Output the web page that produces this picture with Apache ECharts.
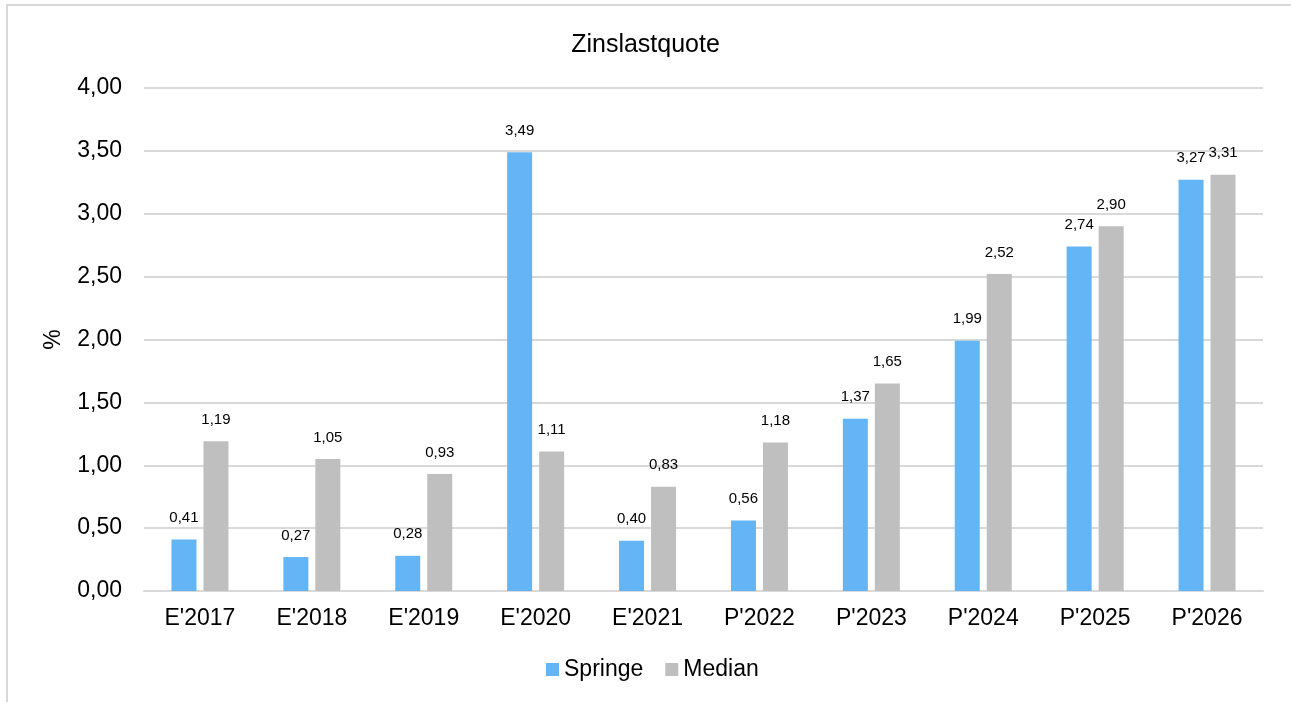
<!DOCTYPE html>
<html>
<head>
<meta charset="utf-8">
<script src="https://cdn.jsdelivr.net/npm/echarts@6/dist/echarts.min.js"></script>
<style>
  html, body { margin: 0; padding: 0; background: #fff; }
  #frame {
    position: absolute; left: 6px; top: 4px; width: 1285px; height: 698px;
    border-left: 2px solid #d9d9d9; border-top: 2px solid #d9d9d9;
  }
  #chart { position: absolute; left: 0; top: 0; width: 1291px; height: 702px; }
</style>
</head>
<body>
<div id="frame"></div>
<div id="chart"></div>
<script>
  // Kategorien und Werte
  const categories = ["E'2017", "E'2018", "E'2019", "E'2020", "E'2021", "P'2022", "P'2023", "P'2024", "P'2025", "P'2026"]
  const springe = [0.41, 0.27, 0.28, 3.49, 0.40, 0.56, 1.37, 1.99, 2.74, 3.27]
  const median = [1.19, 1.05, 0.93, 1.11, 0.83, 1.18, 1.65, 2.52, 2.90, 3.31]

  const font = 'Liberation Sans, Arial, sans-serif'
  const textColor = '#000'
  const fmt = (v) => v.toFixed(2).replace('.', ',')

  const chart = echarts.init(document.getElementById('chart'))

  const labelCfg = {
    show: true,
    position: 'top',
    distance: 14,
    color: textColor,
    fontFamily: font,
    fontSize: 15,
    formatter: (p) => fmt(p.value)
  }

  chart.setOption({
    animation: false,
    textStyle: { fontFamily: font },
    title: {
      text: 'Zinslastquote',
      left: 'center',
      top: 28,
      textStyle: { fontFamily: font, fontSize: 25, fontWeight: 'normal', color: textColor }
    },
    legend: {
      bottom: 16,
      left: 541,
      itemWidth: 13,
      itemHeight: 13,
      itemGap: 22,
      icon: 'rect',
      textStyle: { fontFamily: font, fontSize: 23, color: textColor, padding: [0, 0, 0, 0] },
      data: ['Springe', 'Median']
    },
    grid: { left: 144, right: 28, top: 88, bottom: 111, containLabel: false },
    xAxis: {
      type: 'category',
      data: categories,
      axisTick: { show: false },
      axisLine: { lineStyle: { color: '#d9d9d9', width: 2 } },
      axisLabel: { color: textColor, fontFamily: font, fontSize: 23, margin: 16 }
    },
    yAxis: {
      type: 'value',
      min: 0,
      max: 4,
      interval: 0.5,
      name: '%',
      nameLocation: 'middle',
      nameGap: 79,
      nameRotate: 90,
      nameTextStyle: { color: textColor, fontFamily: font, fontSize: 23 },
      axisLine: { show: false },
      axisTick: { show: false },
      splitLine: { lineStyle: { color: '#d9d9d9', width: 2 } },
      axisLabel: { color: textColor, fontFamily: font, fontSize: 23, margin: 22, formatter: fmt }
    },
    series: [
      {
        name: 'Springe',
        type: 'bar',
        data: springe,
        barWidth: 25,
        barGap: '28%',
        itemStyle: { color: '#64b5f6' },
        label: labelCfg
      },
      {
        name: 'Median',
        type: 'bar',
        data: median,
        barWidth: 25,
        itemStyle: { color: '#bfbfbf' },
        label: labelCfg
      }
    ]
  })
</script>
</body>
</html>
